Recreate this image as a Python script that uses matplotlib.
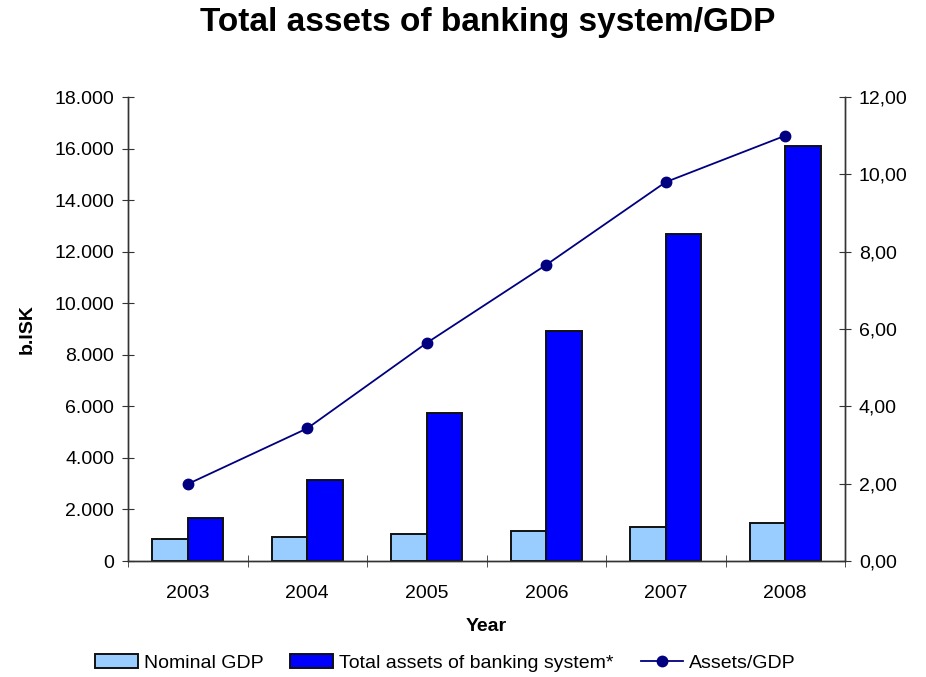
import matplotlib
matplotlib.use("Agg")
import matplotlib.pyplot as plt
import numpy as np
from matplotlib.ticker import FuncFormatter, FixedLocator

plt.rcParams['font.family'] = ['Liberation Sans', 'DejaVu Sans']

years = ["2003", "2004", "2005", "2006", "2007", "2008"]
nominal_gdp = [860, 930, 1050, 1165, 1300, 1475]
total_assets = [1670, 3140, 5740, 8940, 12700, 16100]
assets_gdp = [1.99, 3.43, 5.64, 7.66, 9.80, 11.00]

fig = plt.figure(figsize=(9.26, 6.77), dpi=100)
ax = fig.add_axes([128/926, 1-561/677, (845-128)/926, (561-97)/677])
ax2 = ax.twinx()

x = np.arange(len(years))
w = 0.295
ax.bar(x - w/2, nominal_gdp, w, color="#99CCFF", edgecolor="#111111", linewidth=1.4, label="Nominal GDP", zorder=2)
ax.bar(x + w/2, total_assets, w, color="#0000FF", edgecolor="#111111", linewidth=1.4, label="Total assets of banking system*", zorder=2)
ax2.plot(x, assets_gdp, color="#000080", marker="o", markersize=7.5, linewidth=1.3, label="Assets/GDP")

ax.set_xlim(-0.5, len(years) - 0.5)
ax.set_ylim(0, 18000)
ax2.set_ylim(0, 12)
ax.set_yticks(np.arange(0, 18001, 2000))
ax2.set_yticks(np.arange(0, 12.01, 2))
ax.yaxis.set_major_formatter(FuncFormatter(lambda v, p: f"{int(v):,}".replace(",", ".")))
ax2.yaxis.set_major_formatter(FuncFormatter(lambda v, p: f"{v:.2f}".replace(".", ",")))

ax.set_xticks(x)
ax.set_xticklabels(years)
ax.xaxis.set_minor_locator(FixedLocator(np.arange(-0.5, len(years), 1.0)))
ax.tick_params(axis="x", which="major", length=0, labelsize=14, pad=17)
ax.tick_params(axis="x", which="minor", length=8, direction="inout", color="#333333")
ax.tick_params(axis="y", length=8, direction="inout", labelsize=14, color="#333333", pad=6)
ax2.tick_params(axis="y", length=8, direction="inout", labelsize=14, color="#333333", pad=6)

for a in (ax, ax2):
    a.spines["top"].set_visible(False)
    for s in ("left", "right", "bottom"):
        a.spines[s].set_color("#333333")
        a.spines[s].set_linewidth(1.0)

ax.set_ylabel("b.ISK", fontsize=14, fontweight="bold", labelpad=13)
ax.set_xlabel("Year", fontsize=14, fontweight="bold", labelpad=12)
fig.text(0.527, 0.967, "Total assets of banking system/GDP", ha="center", va="center",
         fontsize=24, fontweight="bold")

h1, l1 = ax.get_legend_handles_labels()
h2, l2 = ax2.get_legend_handles_labels()
fig.legend(h1 + h2, l1 + l2, loc="center", bbox_to_anchor=(0.481, 0.021), ncol=3, frameon=False,
           fontsize=14, handlelength=2.2, handleheight=0.7, handletextpad=0.3, columnspacing=1.4)

fig.savefig("out.png", dpi=100)
